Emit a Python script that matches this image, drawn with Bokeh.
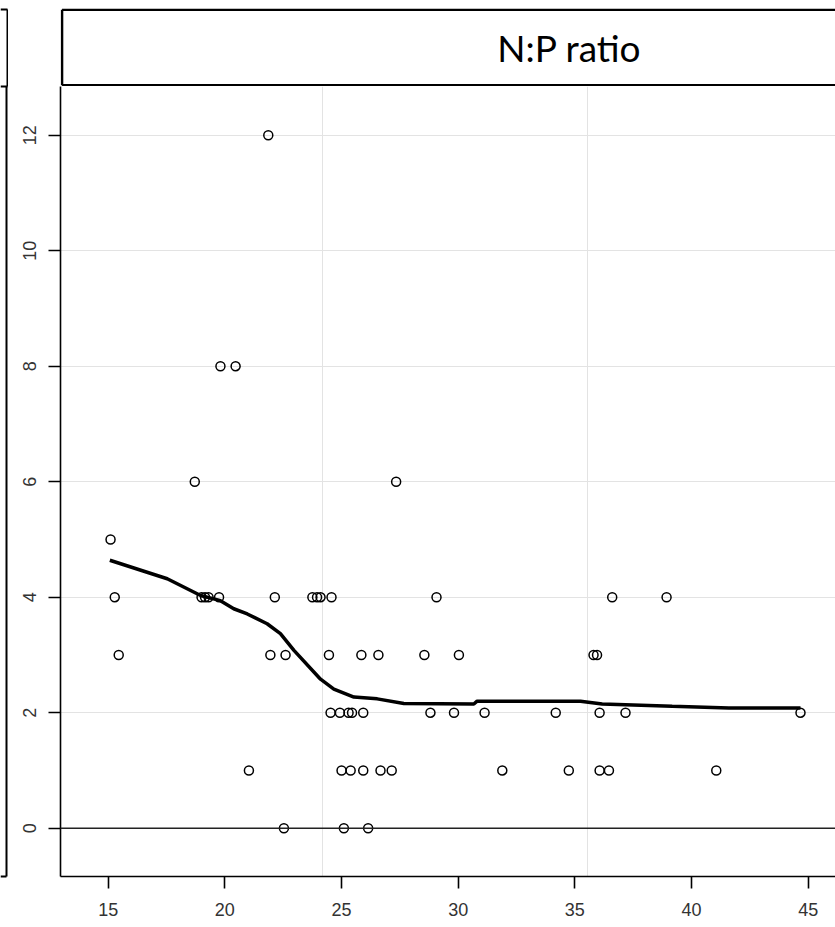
from bokeh.plotting import figure
from bokeh.models import Range1d, FixedTicker, Span, Label
from bokeh.layouts import column, row
from bokeh.embed import file_html
from bokeh.resources import INLINE

# ---------------- data ----------------
panel_title = "N:P ratio"
x_ticks = [15, 20, 25, 30, 35, 40, 45]
y_ticks = [0, 2, 4, 6, 8, 10, 12]
x_grid = [24.18, 35.53]
zero_line = 0

pt_x = [15.10, 15.28, 15.45, 18.71, 19.00, 19.15, 19.30, 19.75, 19.81, 20.46,
        21.03, 21.86, 21.95, 22.14, 22.53, 22.60, 23.75, 23.95, 24.10, 24.57,
        24.46, 24.53, 24.93, 25.30, 25.45, 25.93, 25.00, 25.39, 25.93, 26.67,
        27.15, 25.10, 26.14, 25.85, 26.58, 27.34, 28.55, 28.81, 29.07, 29.82,
        30.03, 31.13, 31.89, 34.18, 34.74, 35.80, 35.95, 36.06, 36.06, 36.46,
        36.60, 37.17, 38.93, 41.06, 44.67]
pt_y = [5, 4, 3, 6, 4, 4, 4, 4, 8, 8,
        1, 12, 3, 4, 0, 3, 4, 4, 4, 4,
        3, 2, 2, 2, 2, 2, 1, 1, 1, 1,
        1, 0, 0, 3, 3, 6, 3, 2, 4, 2,
        3, 2, 1, 2, 1, 3, 3, 2, 1, 1,
        4, 2, 4, 1, 2]

curve_x = [15.07, 17.53, 18.96, 19.81, 20.38, 20.96, 21.81, 22.38, 22.96, 24.10,
           24.67, 25.53, 26.53, 27.67, 30.67, 30.81, 35.24, 36.17, 39.17, 41.60, 44.67]
curve_y = [4.64, 4.32, 4.03, 3.94, 3.80, 3.71, 3.54, 3.37, 3.08, 2.58,
           2.41, 2.27, 2.24, 2.16, 2.15, 2.20, 2.20, 2.15, 2.11, 2.08, 2.08]


def bare(fig):
    fig.grid.visible = False
    fig.outline_line_color = None
    fig.background_fill_color = "white"
    fig.border_fill_color = "white"


# ---------------- neighbouring panel's edge (left strip) ----------------
strip = figure(width=8, height=927, x_range=Range1d(0, 8), y_range=Range1d(927, 0),
               output_backend="svg", toolbar_location=None,
               x_axis_location=None, y_axis_location=None,
               min_border_left=0, min_border_right=0, min_border_top=0,
               min_border_bottom=0)
bare(strip)
strip.segment(x0=[0, 0, 7, 6, 0], y0=[9, 86, 9, 86, 876],
              x1=[7, 7, 7, 6, 6], y1=[9, 86, 86, 876, 876],
              line_color="black", line_width=2)

# ---------------- header strip ----------------
head = figure(width=827, height=86, x_range=Range1d(-0.002, 1.0),
              y_range=Range1d(-0.016, 1.016), output_backend="svg",
              toolbar_location=None, x_axis_location=None, y_axis_location=None,
              min_border_left=51, min_border_right=0, min_border_top=8,
              min_border_bottom=0)
bare(head)
head.segment(x0=[0, 0, 0], y0=[0, 1, 0], x1=[1, 1, 0], y1=[0, 1, 1],
             line_color="black", line_width=2.5)
head.add_layout(Label(x=0.656, y=0.5, text=panel_title, text_align="center",
                      text_baseline="middle", text_font="Lato",
                      text_font_size="37px", text_color="black"))

# ---------------- main panel ----------------
p = figure(width=827, height=841, x_range=Range1d(12.955, 46.17),
           y_range=Range1d(-0.836, 12.843), output_backend="svg",
           toolbar_location=None, min_border_left=52, min_border_right=0,
           min_border_top=0, min_border_bottom=51)
p.outline_line_color = None
p.background_fill_color = "white"
p.border_fill_color = "white"

p.xaxis.ticker = FixedTicker(ticks=x_ticks)
p.yaxis.ticker = FixedTicker(ticks=y_ticks)
for ax in (p.xaxis, p.yaxis):
    ax.axis_line_color = "black"
    ax.axis_line_width = 1.6
    ax.major_tick_line_color = "black"
    ax.major_tick_line_width = 1.6
    ax.major_tick_in = 0
    ax.major_tick_out = 12
    ax.minor_tick_line_color = None
    ax.major_label_text_font = "Liberation Sans"
    ax.major_label_text_font_size = "18px"
    ax.major_label_text_color = "#333333"
p.xaxis.major_label_standoff = 14
p.yaxis.major_label_standoff = 12
p.yaxis.major_label_orientation = "vertical"

p.ygrid.ticker = FixedTicker(ticks=y_ticks)
p.xgrid.ticker = FixedTicker(ticks=x_grid)
p.grid.grid_line_color = "#e3e3e3"
p.grid.grid_line_width = 1

p.add_layout(Span(location=zero_line, dimension="width", line_color="#222222",
                  line_width=1.6))

p.line(curve_x, curve_y, line_color="black", line_width=3.5)
p.scatter(pt_x, pt_y, marker="circle", size=9, fill_color=None,
          line_color="black", line_width=1.5)

layout = row(strip, column(head, p, spacing=0), spacing=0)
open("out.html", "w").write(file_html(layout, INLINE))
